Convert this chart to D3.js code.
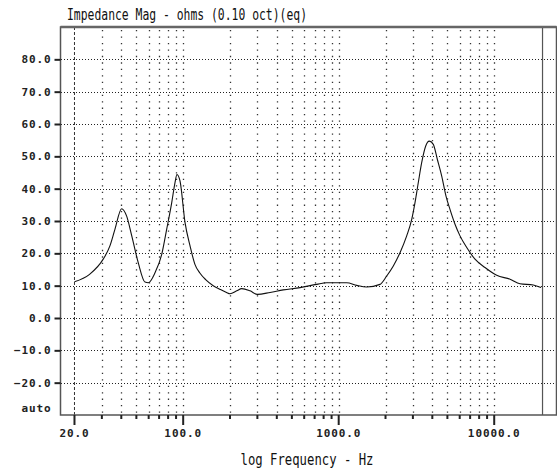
<!DOCTYPE html>
<html>
<head>
<meta charset="utf-8">
<script src="https://cdn.jsdelivr.net/npm/d3@7"></script>
<style>
  body { margin: 0; background: #fff; }
  svg { display: block; }
</style>
</head>
<body>
<svg width="557" height="474"></svg>
<script>
// impedance curve
const freqs = [20, 25, 30.6, 33.8, 36.4, 40.2, 43.3, 46.7, 51.4, 56.8, 59.7, 65.9, 72.8, 78.3, 84.4, 88.6, 91.2, 95.4,
  102.8, 110.7, 119, 128, 140, 156, 172, 190, 200, 221, 238, 269, 300, 362, 440, 564, 722, 837, 1126, 1306, 1514,
  1844, 2036, 2245, 2479, 2737, 2948, 3095, 3250, 3419, 3627, 3825, 4059, 4306, 4597, 4898, 5196, 5597, 6026, 6657,
  7524, 8726, 10376, 12636, 14655, 17838, 20000];
const ohms = [11.2, 13.5, 18.2, 22.3, 27.4, 33.8, 31.5, 25.4, 17.1, 11.1, 10.9, 14, 19.7, 27.4, 35.7, 41.9, 44.4, 42.4,
  29.5, 22.3, 16.6, 13.9, 11.8, 10, 8.9, 7.9, 7.5, 8.4, 9.1, 8.4, 7.3, 7.9, 8.7, 9.4, 10.4, 10.9, 10.9, 10.1, 9.6,
  10.4, 13, 16.1, 20.2, 25.4, 30.5, 35.7, 41.9, 48.1, 53.2, 54.7, 53.7, 49.1, 43.9, 37.7, 33.6, 29, 25.4, 21.8,
  18.2, 15.6, 13.2, 12, 10.6, 10.2, 9.4];

const yTicks = [-20, -10, 0, 10, 20, 30, 40, 50, 60, 70, 80];
const xMajor = [20, 100, 1000, 10000];
const xMinor = [30, 40, 50, 60, 70, 80, 90, 200, 300, 400, 500, 600, 700, 800, 900,
  2000, 3000, 4000, 5000, 6000, 7000, 8000, 9000];
const xGrid = [30, 40, 50, 60, 70, 80, 90, 100, 200, 300, 400, 500, 600, 700, 800, 900, 1000,
  2000, 3000, 4000, 5000, 6000, 7000, 8000, 9000, 10000];
const fStart = 20, fEnd = 20000;

const svg = d3.select("svg");
const pLeft = 60.5, pRight = 556.5, pTop = 27, pBottom = 415;

const x = d3.scaleLog().domain([16.26, 25150]).range([pLeft, pRight]);
const y = d3.scaleLinear().domain([-30, 90]).range([pBottom, pTop]);

const mono = "'DejaVu Sans Mono', 'Liberation Mono', monospace";

// horizontal dotted grid
svg.append("g").selectAll("line")
  .data(yTicks)
  .enter().append("line")
  .attr("x1", pLeft).attr("x2", pRight)
  .attr("y1", d => Math.round(y(d)) + 0.5).attr("y2", d => Math.round(y(d)) + 0.5)
  .attr("stroke", "#222").attr("stroke-dasharray", "1,2")
  .attr("shape-rendering", "crispEdges");

// vertical dotted grid
svg.append("g").selectAll("line")
  .data(xGrid)
  .enter().append("line")
  .attr("x1", d => Math.round(x(d)) + 0.5).attr("x2", d => Math.round(x(d)) + 0.5)
  .attr("y1", pTop + 3).attr("y2", pBottom)
  .attr("stroke", "#333").attr("stroke-width", 1.3)
  .attr("stroke-dasharray", "1.3," + ((y(0) - y(10)) / 5 - 1.3));

// 20 Hz dashed marker and 20 kHz solid marker
svg.append("line")
  .attr("x1", x(fStart)).attr("x2", x(fStart))
  .attr("y1", pTop).attr("y2", pBottom)
  .attr("stroke", "#333").attr("stroke-dasharray", "3,2");
svg.append("line")
  .attr("x1", x(fEnd) + 1.5).attr("x2", x(fEnd) + 1.5)
  .attr("y1", pTop).attr("y2", pBottom)
  .attr("stroke", "#555").attr("stroke-width", 1.2);

// frame
svg.append("path")
  .attr("d", `M${pLeft},${pBottom}V${pTop}H${pRight}V${pBottom}Z`)
  .attr("fill", "none").attr("stroke", "#555").attr("stroke-width", 1.5);
svg.append("line")
  .attr("x1", pLeft).attr("x2", pRight).attr("y1", pTop).attr("y2", pTop)
  .attr("stroke", "#666").attr("stroke-width", 2.5);

// curve
const pts = freqs.map((f, i) => [f, ohms[i]]);
svg.append("path")
  .datum(pts)
  .attr("fill", "none").attr("stroke", "#111").attr("stroke-width", 1.1)
  .attr("d", d3.line().x(d => x(d[0])).y(d => y(d[1])).curve(d3.curveMonotoneX));

// y axis
const yAxis = d3.axisLeft(y).tickValues(yTicks).tickSize(6).tickPadding(3)
  .tickFormat(d3.format(".1f"));
const gy = svg.append("g").attr("transform", `translate(${pLeft},0)`).call(yAxis);
gy.select(".domain").remove();
gy.selectAll(".tick line").attr("stroke", "#222").attr("stroke-width", 2);
gy.selectAll(".tick text")
  .attr("font-family", mono).attr("font-size", 11).attr("font-weight", "bold")
  .attr("letter-spacing", 0.9).attr("fill", "#222");
svg.append("text")
  .attr("x", pLeft - 9).attr("y", y(-30) - 3)
  .attr("text-anchor", "end")
  .attr("font-family", mono).attr("font-size", 11).attr("font-weight", "bold")
  .attr("letter-spacing", 0.9).attr("fill", "#222")
  .text("auto");

// x axis ticks
const gx = svg.append("g").attr("transform", `translate(0,${pBottom})`);
gx.selectAll("line.minor")
  .data(xMinor).enter().append("line")
  .attr("x1", d => x(d)).attr("x2", d => x(d))
  .attr("y1", 0).attr("y2", 4)
  .attr("stroke", "#222").attr("stroke-width", 2);
gx.selectAll("line.major")
  .data(xMajor).enter().append("line")
  .attr("x1", d => x(d)).attr("x2", d => x(d))
  .attr("y1", 0).attr("y2", 10)
  .attr("stroke", "#222").attr("stroke-width", 2);
gx.selectAll("text")
  .data(xMajor).enter().append("text")
  .attr("x", d => x(d)).attr("y", 22)
  .attr("text-anchor", "middle")
  .attr("font-family", mono).attr("font-size", 11).attr("font-weight", "bold")
  .attr("letter-spacing", 0.9).attr("fill", "#222")
  .text(d => d3.format(".1f")(d));

// titles
svg.append("text")
  .attr("x", 67).attr("y", 20)
  .attr("font-family", mono).attr("font-size", 15.5).attr("fill", "#111")
  .attr("textLength", 240).attr("lengthAdjust", "spacingAndGlyphs")
  .text("Impedance Mag - ohms (0.10 oct)(eq)");
svg.append("text")
  .attr("x", 307).attr("y", 465)
  .attr("text-anchor", "middle")
  .attr("font-family", mono).attr("font-size", 15.5).attr("fill", "#111")
  .attr("textLength", 133).attr("lengthAdjust", "spacingAndGlyphs")
  .text("log Frequency - Hz");
</script>
</body>
</html>
